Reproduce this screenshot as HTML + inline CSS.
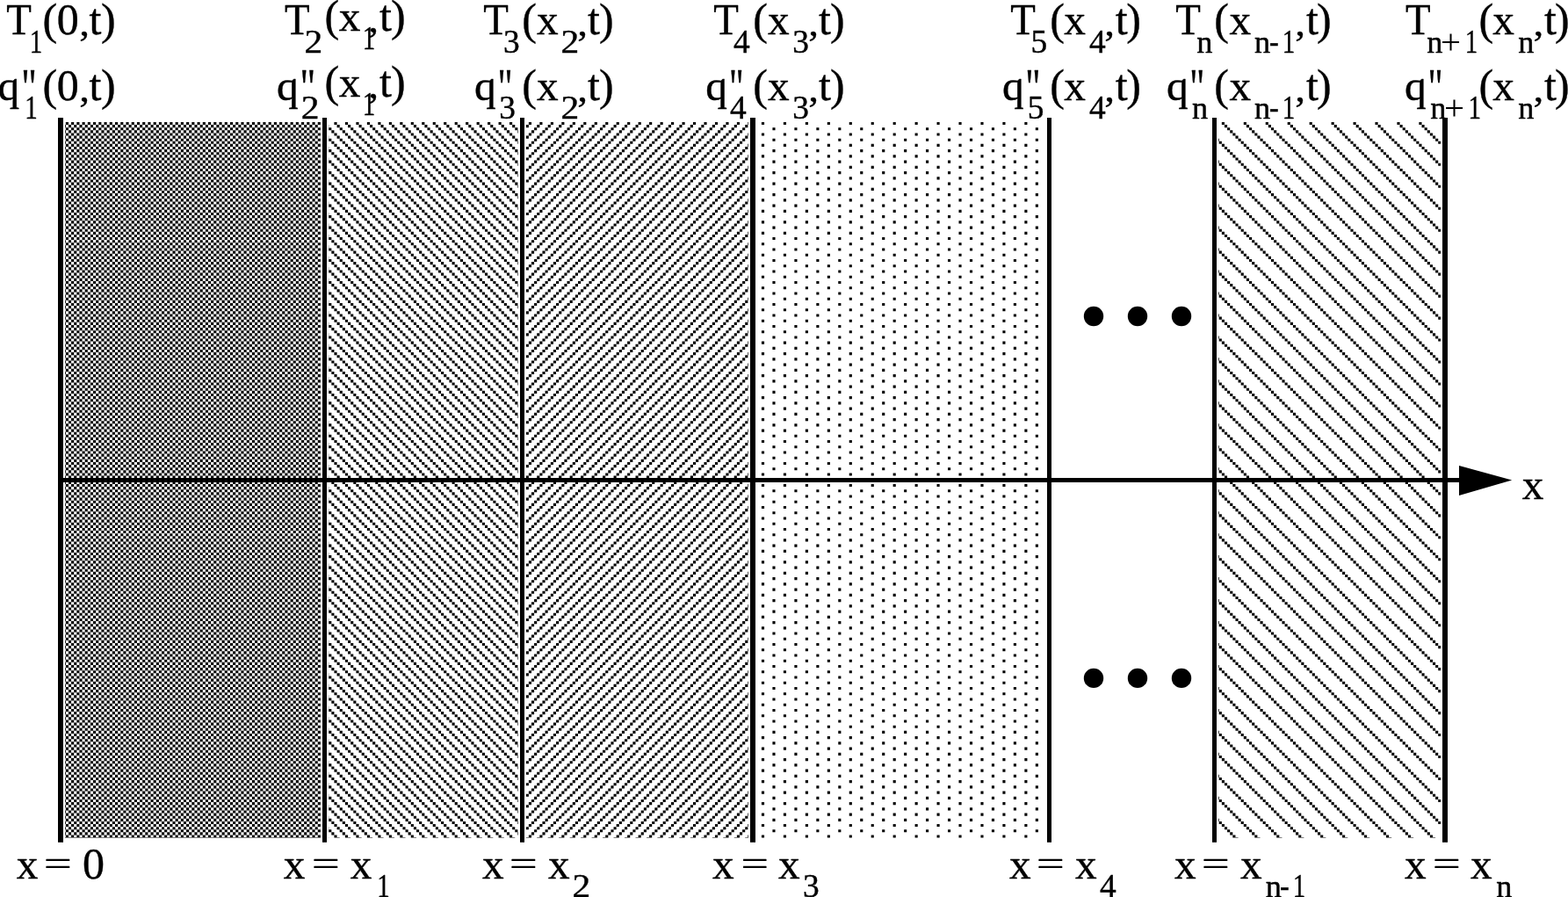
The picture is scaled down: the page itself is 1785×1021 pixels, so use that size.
<!DOCTYPE html>
<html lang="en">
<head>
<meta charset="utf-8">
<title>Multilayer slab: T(x,t) and q''(x,t) at layer interfaces</title>
<style>
html,body{margin:0;padding:0;background:#fff;}
body{width:1785px;height:1021px;overflow:hidden;}
svg{display:block;}
text{font-family:"Liberation Serif","Times New Roman",Times,serif;fill:#000;stroke:#000;stroke-width:0.4px;stroke-linejoin:round;}
</style>
</head>
<body>
<svg width="1785" height="1021" viewBox="0 0 1785 1021">
<defs>
<clipPath id="cpc"><rect x="74" y="139" width="291" height="815"/></clipPath>
<clipPath id="cpb"><rect x="374" y="139" width="216" height="815"/></clipPath>
<clipPath id="cpf"><rect x="599" y="139" width="253" height="815"/></clipPath>
<clipPath id="cpd"><rect x="862" y="139" width="328" height="815"/></clipPath>
<clipPath id="cpw"><rect x="1387" y="139" width="253" height="815"/></clipPath>
</defs>
<rect width="1785" height="1021" fill="#fff"/>
<g fill="none" stroke="#000" stroke-width="3.1215">
<path clip-path="url(#cpc)" stroke-dasharray="3.1185 3.1185" d="M68.61 140.46H366M65.49 143.58H366M68.61 146.70H366M65.49 149.83H366M68.61 152.95H366M65.49 156.07H366M68.61 159.19H366M65.49 162.31H366M68.61 165.43H366M65.49 168.55H366M68.61 171.68H366M65.49 174.80H366M68.61 177.92H366M65.49 181.04H366M68.61 184.16H366M65.49 187.28H366M68.61 190.40H366M65.49 193.53H366M68.61 196.65H366M65.49 199.77H366M68.61 202.89H366M65.49 206.01H366M68.61 209.13H366M65.49 212.26H366M68.61 215.38H366M65.49 218.50H366M68.61 221.62H366M65.49 224.74H366M68.61 227.86H366M65.49 230.98H366M68.61 234.11H366M65.49 237.23H366M68.61 240.35H366M65.49 243.47H366M68.61 246.59H366M65.49 249.71H366M68.61 252.83H366M65.49 255.96H366M68.61 259.08H366M65.49 262.20H366M68.61 265.32H366M65.49 268.44H366M68.61 271.56H366M65.49 274.69H366M68.61 277.81H366M65.49 280.93H366M68.61 284.05H366M65.49 287.17H366M68.61 290.29H366M65.49 293.41H366M68.61 296.54H366M65.49 299.66H366M68.61 302.78H366M65.49 305.90H366M68.61 309.02H366M65.49 312.14H366M68.61 315.26H366M65.49 318.39H366M68.61 321.51H366M65.49 324.63H366M68.61 327.75H366M65.49 330.87H366M68.61 333.99H366M65.49 337.12H366M68.61 340.24H366M65.49 343.36H366M68.61 346.48H366M65.49 349.60H366M68.61 352.72H366M65.49 355.84H366M68.61 358.97H366M65.49 362.09H366M68.61 365.21H366M65.49 368.33H366M68.61 371.45H366M65.49 374.57H366M68.61 377.69H366M65.49 380.82H366M68.61 383.94H366M65.49 387.06H366M68.61 390.18H366M65.49 393.30H366M68.61 396.42H366M65.49 399.55H366M68.61 402.67H366M65.49 405.79H366M68.61 408.91H366M65.49 412.03H366M68.61 415.15H366M65.49 418.27H366M68.61 421.40H366M65.49 424.52H366M68.61 427.64H366M65.49 430.76H366M68.61 433.88H366M65.49 437.00H366M68.61 440.12H366M65.49 443.25H366M68.61 446.37H366M65.49 449.49H366M68.61 452.61H366M65.49 455.73H366M68.61 458.85H366M65.49 461.98H366M68.61 465.10H366M65.49 468.22H366M68.61 471.34H366M65.49 474.46H366M68.61 477.58H366M65.49 480.70H366M68.61 483.83H366M65.49 486.95H366M68.61 490.07H366M65.49 493.19H366M68.61 496.31H366M65.49 499.43H366M68.61 502.55H366M65.49 505.68H366M68.61 508.80H366M65.49 511.92H366M68.61 515.04H366M65.49 518.16H366M68.61 521.28H366M65.49 524.41H366M68.61 527.53H366M65.49 530.65H366M68.61 533.77H366M65.49 536.89H366M68.61 540.01H366M65.49 543.13H366M68.61 546.26H366M65.49 549.38H366M68.61 552.50H366M65.49 555.62H366M68.61 558.74H366M65.49 561.86H366M68.61 564.98H366M65.49 568.11H366M68.61 571.23H366M65.49 574.35H366M68.61 577.47H366M65.49 580.59H366M68.61 583.71H366M65.49 586.84H366M68.61 589.96H366M65.49 593.08H366M68.61 596.20H366M65.49 599.32H366M68.61 602.44H366M65.49 605.56H366M68.61 608.69H366M65.49 611.81H366M68.61 614.93H366M65.49 618.05H366M68.61 621.17H366M65.49 624.29H366M68.61 627.41H366M65.49 630.54H366M68.61 633.66H366M65.49 636.78H366M68.61 639.90H366M65.49 643.02H366M68.61 646.14H366M65.49 649.27H366M68.61 652.39H366M65.49 655.51H366M68.61 658.63H366M65.49 661.75H366M68.61 664.87H366M65.49 667.99H366M68.61 671.12H366M65.49 674.24H366M68.61 677.36H366M65.49 680.48H366M68.61 683.60H366M65.49 686.72H366M68.61 689.84H366M65.49 692.97H366M68.61 696.09H366M65.49 699.21H366M68.61 702.33H366M65.49 705.45H366M68.61 708.57H366M65.49 711.70H366M68.61 714.82H366M65.49 717.94H366M68.61 721.06H366M65.49 724.18H366M68.61 727.30H366M65.49 730.42H366M68.61 733.55H366M65.49 736.67H366M68.61 739.79H366M65.49 742.91H366M68.61 746.03H366M65.49 749.15H366M68.61 752.27H366M65.49 755.40H366M68.61 758.52H366M65.49 761.64H366M68.61 764.76H366M65.49 767.88H366M68.61 771.00H366M65.49 774.13H366M68.61 777.25H366M65.49 780.37H366M68.61 783.49H366M65.49 786.61H366M68.61 789.73H366M65.49 792.85H366M68.61 795.98H366M65.49 799.10H366M68.61 802.22H366M65.49 805.34H366M68.61 808.46H366M65.49 811.58H366M68.61 814.70H366M65.49 817.83H366M68.61 820.95H366M65.49 824.07H366M68.61 827.19H366M65.49 830.31H366M68.61 833.43H366M65.49 836.56H366M68.61 839.68H366M65.49 842.80H366M68.61 845.92H366M65.49 849.04H366M68.61 852.16H366M65.49 855.28H366M68.61 858.41H366M65.49 861.53H366M68.61 864.65H366M65.49 867.77H366M68.61 870.89H366M65.49 874.01H366M68.61 877.13H366M65.49 880.26H366M68.61 883.38H366M65.49 886.50H366M68.61 889.62H366M65.49 892.74H366M68.61 895.86H366M65.49 898.99H366M68.61 902.11H366M65.49 905.23H366M68.61 908.35H366M65.49 911.47H366M68.61 914.59H366M65.49 917.71H366M68.61 920.84H366M65.49 923.96H366M68.61 927.08H366M65.49 930.20H366M68.61 933.32H366M65.49 936.44H366M68.61 939.56H366M65.49 942.69H366M68.61 945.81H366M65.49 948.93H366M68.61 952.05H366M65.49 955.17H366"/>
<path clip-path="url(#cpb)" stroke-dasharray="3.1185 9.3555" d="M367.98 140.46H591M358.63 143.58H591M361.75 146.70H591M364.86 149.83H591M367.98 152.95H591M358.63 156.07H591M361.75 159.19H591M364.86 162.31H591M367.98 165.43H591M358.63 168.55H591M361.75 171.68H591M364.86 174.80H591M367.98 177.92H591M358.63 181.04H591M361.75 184.16H591M364.86 187.28H591M367.98 190.40H591M358.63 193.53H591M361.75 196.65H591M364.86 199.77H591M367.98 202.89H591M358.63 206.01H591M361.75 209.13H591M364.86 212.26H591M367.98 215.38H591M358.63 218.50H591M361.75 221.62H591M364.86 224.74H591M367.98 227.86H591M358.63 230.98H591M361.75 234.11H591M364.86 237.23H591M367.98 240.35H591M358.63 243.47H591M361.75 246.59H591M364.86 249.71H591M367.98 252.83H591M358.63 255.96H591M361.75 259.08H591M364.86 262.20H591M367.98 265.32H591M358.63 268.44H591M361.75 271.56H591M364.86 274.69H591M367.98 277.81H591M358.63 280.93H591M361.75 284.05H591M364.86 287.17H591M367.98 290.29H591M358.63 293.41H591M361.75 296.54H591M364.86 299.66H591M367.98 302.78H591M358.63 305.90H591M361.75 309.02H591M364.86 312.14H591M367.98 315.26H591M358.63 318.39H591M361.75 321.51H591M364.86 324.63H591M367.98 327.75H591M358.63 330.87H591M361.75 333.99H591M364.86 337.12H591M367.98 340.24H591M358.63 343.36H591M361.75 346.48H591M364.86 349.60H591M367.98 352.72H591M358.63 355.84H591M361.75 358.97H591M364.86 362.09H591M367.98 365.21H591M358.63 368.33H591M361.75 371.45H591M364.86 374.57H591M367.98 377.69H591M358.63 380.82H591M361.75 383.94H591M364.86 387.06H591M367.98 390.18H591M358.63 393.30H591M361.75 396.42H591M364.86 399.55H591M367.98 402.67H591M358.63 405.79H591M361.75 408.91H591M364.86 412.03H591M367.98 415.15H591M358.63 418.27H591M361.75 421.40H591M364.86 424.52H591M367.98 427.64H591M358.63 430.76H591M361.75 433.88H591M364.86 437.00H591M367.98 440.12H591M358.63 443.25H591M361.75 446.37H591M364.86 449.49H591M367.98 452.61H591M358.63 455.73H591M361.75 458.85H591M364.86 461.98H591M367.98 465.10H591M358.63 468.22H591M361.75 471.34H591M364.86 474.46H591M367.98 477.58H591M358.63 480.70H591M361.75 483.83H591M364.86 486.95H591M367.98 490.07H591M358.63 493.19H591M361.75 496.31H591M364.86 499.43H591M367.98 502.55H591M358.63 505.68H591M361.75 508.80H591M364.86 511.92H591M367.98 515.04H591M358.63 518.16H591M361.75 521.28H591M364.86 524.41H591M367.98 527.53H591M358.63 530.65H591M361.75 533.77H591M364.86 536.89H591M367.98 540.01H591M358.63 543.13H591M361.75 546.26H591M364.86 549.38H591M367.98 552.50H591M358.63 555.62H591M361.75 558.74H591M364.86 561.86H591M367.98 564.98H591M358.63 568.11H591M361.75 571.23H591M364.86 574.35H591M367.98 577.47H591M358.63 580.59H591M361.75 583.71H591M364.86 586.84H591M367.98 589.96H591M358.63 593.08H591M361.75 596.20H591M364.86 599.32H591M367.98 602.44H591M358.63 605.56H591M361.75 608.69H591M364.86 611.81H591M367.98 614.93H591M358.63 618.05H591M361.75 621.17H591M364.86 624.29H591M367.98 627.41H591M358.63 630.54H591M361.75 633.66H591M364.86 636.78H591M367.98 639.90H591M358.63 643.02H591M361.75 646.14H591M364.86 649.27H591M367.98 652.39H591M358.63 655.51H591M361.75 658.63H591M364.86 661.75H591M367.98 664.87H591M358.63 667.99H591M361.75 671.12H591M364.86 674.24H591M367.98 677.36H591M358.63 680.48H591M361.75 683.60H591M364.86 686.72H591M367.98 689.84H591M358.63 692.97H591M361.75 696.09H591M364.86 699.21H591M367.98 702.33H591M358.63 705.45H591M361.75 708.57H591M364.86 711.70H591M367.98 714.82H591M358.63 717.94H591M361.75 721.06H591M364.86 724.18H591M367.98 727.30H591M358.63 730.42H591M361.75 733.55H591M364.86 736.67H591M367.98 739.79H591M358.63 742.91H591M361.75 746.03H591M364.86 749.15H591M367.98 752.27H591M358.63 755.40H591M361.75 758.52H591M364.86 761.64H591M367.98 764.76H591M358.63 767.88H591M361.75 771.00H591M364.86 774.13H591M367.98 777.25H591M358.63 780.37H591M361.75 783.49H591M364.86 786.61H591M367.98 789.73H591M358.63 792.85H591M361.75 795.98H591M364.86 799.10H591M367.98 802.22H591M358.63 805.34H591M361.75 808.46H591M364.86 811.58H591M367.98 814.70H591M358.63 817.83H591M361.75 820.95H591M364.86 824.07H591M367.98 827.19H591M358.63 830.31H591M361.75 833.43H591M364.86 836.56H591M367.98 839.68H591M358.63 842.80H591M361.75 845.92H591M364.86 849.04H591M367.98 852.16H591M358.63 855.28H591M361.75 858.41H591M364.86 861.53H591M367.98 864.65H591M358.63 867.77H591M361.75 870.89H591M364.86 874.01H591M367.98 877.13H591M358.63 880.26H591M361.75 883.38H591M364.86 886.50H591M367.98 889.62H591M358.63 892.74H591M361.75 895.86H591M364.86 898.99H591M367.98 902.11H591M358.63 905.23H591M361.75 908.35H591M364.86 911.47H591M367.98 914.59H591M358.63 917.71H591M361.75 920.84H591M364.86 923.96H591M367.98 927.08H591M358.63 930.20H591M361.75 933.32H591M364.86 936.44H591M367.98 939.56H591M358.63 942.69H591M361.75 945.81H591M364.86 948.93H591M367.98 952.05H591M358.63 955.17H591"/>
<path clip-path="url(#cpf)" stroke-dasharray="3.1185 9.3555" d="M589.40 140.46H853M586.28 143.58H853M595.63 146.70H853M592.51 149.83H853M589.40 152.95H853M586.28 156.07H853M595.63 159.19H853M592.51 162.31H853M589.40 165.43H853M586.28 168.55H853M595.63 171.68H853M592.51 174.80H853M589.40 177.92H853M586.28 181.04H853M595.63 184.16H853M592.51 187.28H853M589.40 190.40H853M586.28 193.53H853M595.63 196.65H853M592.51 199.77H853M589.40 202.89H853M586.28 206.01H853M595.63 209.13H853M592.51 212.26H853M589.40 215.38H853M586.28 218.50H853M595.63 221.62H853M592.51 224.74H853M589.40 227.86H853M586.28 230.98H853M595.63 234.11H853M592.51 237.23H853M589.40 240.35H853M586.28 243.47H853M595.63 246.59H853M592.51 249.71H853M589.40 252.83H853M586.28 255.96H853M595.63 259.08H853M592.51 262.20H853M589.40 265.32H853M586.28 268.44H853M595.63 271.56H853M592.51 274.69H853M589.40 277.81H853M586.28 280.93H853M595.63 284.05H853M592.51 287.17H853M589.40 290.29H853M586.28 293.41H853M595.63 296.54H853M592.51 299.66H853M589.40 302.78H853M586.28 305.90H853M595.63 309.02H853M592.51 312.14H853M589.40 315.26H853M586.28 318.39H853M595.63 321.51H853M592.51 324.63H853M589.40 327.75H853M586.28 330.87H853M595.63 333.99H853M592.51 337.12H853M589.40 340.24H853M586.28 343.36H853M595.63 346.48H853M592.51 349.60H853M589.40 352.72H853M586.28 355.84H853M595.63 358.97H853M592.51 362.09H853M589.40 365.21H853M586.28 368.33H853M595.63 371.45H853M592.51 374.57H853M589.40 377.69H853M586.28 380.82H853M595.63 383.94H853M592.51 387.06H853M589.40 390.18H853M586.28 393.30H853M595.63 396.42H853M592.51 399.55H853M589.40 402.67H853M586.28 405.79H853M595.63 408.91H853M592.51 412.03H853M589.40 415.15H853M586.28 418.27H853M595.63 421.40H853M592.51 424.52H853M589.40 427.64H853M586.28 430.76H853M595.63 433.88H853M592.51 437.00H853M589.40 440.12H853M586.28 443.25H853M595.63 446.37H853M592.51 449.49H853M589.40 452.61H853M586.28 455.73H853M595.63 458.85H853M592.51 461.98H853M589.40 465.10H853M586.28 468.22H853M595.63 471.34H853M592.51 474.46H853M589.40 477.58H853M586.28 480.70H853M595.63 483.83H853M592.51 486.95H853M589.40 490.07H853M586.28 493.19H853M595.63 496.31H853M592.51 499.43H853M589.40 502.55H853M586.28 505.68H853M595.63 508.80H853M592.51 511.92H853M589.40 515.04H853M586.28 518.16H853M595.63 521.28H853M592.51 524.41H853M589.40 527.53H853M586.28 530.65H853M595.63 533.77H853M592.51 536.89H853M589.40 540.01H853M586.28 543.13H853M595.63 546.26H853M592.51 549.38H853M589.40 552.50H853M586.28 555.62H853M595.63 558.74H853M592.51 561.86H853M589.40 564.98H853M586.28 568.11H853M595.63 571.23H853M592.51 574.35H853M589.40 577.47H853M586.28 580.59H853M595.63 583.71H853M592.51 586.84H853M589.40 589.96H853M586.28 593.08H853M595.63 596.20H853M592.51 599.32H853M589.40 602.44H853M586.28 605.56H853M595.63 608.69H853M592.51 611.81H853M589.40 614.93H853M586.28 618.05H853M595.63 621.17H853M592.51 624.29H853M589.40 627.41H853M586.28 630.54H853M595.63 633.66H853M592.51 636.78H853M589.40 639.90H853M586.28 643.02H853M595.63 646.14H853M592.51 649.27H853M589.40 652.39H853M586.28 655.51H853M595.63 658.63H853M592.51 661.75H853M589.40 664.87H853M586.28 667.99H853M595.63 671.12H853M592.51 674.24H853M589.40 677.36H853M586.28 680.48H853M595.63 683.60H853M592.51 686.72H853M589.40 689.84H853M586.28 692.97H853M595.63 696.09H853M592.51 699.21H853M589.40 702.33H853M586.28 705.45H853M595.63 708.57H853M592.51 711.70H853M589.40 714.82H853M586.28 717.94H853M595.63 721.06H853M592.51 724.18H853M589.40 727.30H853M586.28 730.42H853M595.63 733.55H853M592.51 736.67H853M589.40 739.79H853M586.28 742.91H853M595.63 746.03H853M592.51 749.15H853M589.40 752.27H853M586.28 755.40H853M595.63 758.52H853M592.51 761.64H853M589.40 764.76H853M586.28 767.88H853M595.63 771.00H853M592.51 774.13H853M589.40 777.25H853M586.28 780.37H853M595.63 783.49H853M592.51 786.61H853M589.40 789.73H853M586.28 792.85H853M595.63 795.98H853M592.51 799.10H853M589.40 802.22H853M586.28 805.34H853M595.63 808.46H853M592.51 811.58H853M589.40 814.70H853M586.28 817.83H853M595.63 820.95H853M592.51 824.07H853M589.40 827.19H853M586.28 830.31H853M595.63 833.43H853M592.51 836.56H853M589.40 839.68H853M586.28 842.80H853M595.63 845.92H853M592.51 849.04H853M589.40 852.16H853M586.28 855.28H853M595.63 858.41H853M592.51 861.53H853M589.40 864.65H853M586.28 867.77H853M595.63 870.89H853M592.51 874.01H853M589.40 877.13H853M586.28 880.26H853M595.63 883.38H853M592.51 886.50H853M589.40 889.62H853M586.28 892.74H853M595.63 895.86H853M592.51 898.99H853M589.40 902.11H853M586.28 905.23H853M595.63 908.35H853M592.51 911.47H853M589.40 914.59H853M586.28 917.71H853M595.63 920.84H853M592.51 923.96H853M589.40 927.08H853M586.28 930.20H853M595.63 933.32H853M592.51 936.44H853M589.40 939.56H853M586.28 942.69H853M595.63 945.81H853M592.51 948.93H853M589.40 952.05H853M586.28 955.17H853"/>
<path clip-path="url(#cpd)" stroke-dasharray="3.1185 21.8295" d="M842.00 140.46H1191M854.47 146.70H1191M842.00 152.95H1191M854.47 159.19H1191M842.00 165.43H1191M854.47 171.68H1191M842.00 177.92H1191M854.47 184.16H1191M842.00 190.40H1191M854.47 196.65H1191M842.00 202.89H1191M854.47 209.13H1191M842.00 215.38H1191M854.47 221.62H1191M842.00 227.86H1191M854.47 234.11H1191M842.00 240.35H1191M854.47 246.59H1191M842.00 252.83H1191M854.47 259.08H1191M842.00 265.32H1191M854.47 271.56H1191M842.00 277.81H1191M854.47 284.05H1191M842.00 290.29H1191M854.47 296.54H1191M842.00 302.78H1191M854.47 309.02H1191M842.00 315.26H1191M854.47 321.51H1191M842.00 327.75H1191M854.47 333.99H1191M842.00 340.24H1191M854.47 346.48H1191M842.00 352.72H1191M854.47 358.97H1191M842.00 365.21H1191M854.47 371.45H1191M842.00 377.69H1191M854.47 383.94H1191M842.00 390.18H1191M854.47 396.42H1191M842.00 402.67H1191M854.47 408.91H1191M842.00 415.15H1191M854.47 421.40H1191M842.00 427.64H1191M854.47 433.88H1191M842.00 440.12H1191M854.47 446.37H1191M842.00 452.61H1191M854.47 458.85H1191M842.00 465.10H1191M854.47 471.34H1191M842.00 477.58H1191M854.47 483.83H1191M842.00 490.07H1191M854.47 496.31H1191M842.00 502.55H1191M854.47 508.80H1191M842.00 515.04H1191M854.47 521.28H1191M842.00 527.53H1191M854.47 533.77H1191M842.00 540.01H1191M854.47 546.26H1191M842.00 552.50H1191M854.47 558.74H1191M842.00 564.98H1191M854.47 571.23H1191M842.00 577.47H1191M854.47 583.71H1191M842.00 589.96H1191M854.47 596.20H1191M842.00 602.44H1191M854.47 608.69H1191M842.00 614.93H1191M854.47 621.17H1191M842.00 627.41H1191M854.47 633.66H1191M842.00 639.90H1191M854.47 646.14H1191M842.00 652.39H1191M854.47 658.63H1191M842.00 664.87H1191M854.47 671.12H1191M842.00 677.36H1191M854.47 683.60H1191M842.00 689.84H1191M854.47 696.09H1191M842.00 702.33H1191M854.47 708.57H1191M842.00 714.82H1191M854.47 721.06H1191M842.00 727.30H1191M854.47 733.55H1191M842.00 739.79H1191M854.47 746.03H1191M842.00 752.27H1191M854.47 758.52H1191M842.00 764.76H1191M854.47 771.00H1191M842.00 777.25H1191M854.47 783.49H1191M842.00 789.73H1191M854.47 795.98H1191M842.00 802.22H1191M854.47 808.46H1191M842.00 814.70H1191M854.47 820.95H1191M842.00 827.19H1191M854.47 833.43H1191M842.00 839.68H1191M854.47 845.92H1191M842.00 852.16H1191M854.47 858.41H1191M842.00 864.65H1191M854.47 870.89H1191M842.00 877.13H1191M854.47 883.38H1191M842.00 889.62H1191M854.47 895.86H1191M842.00 902.11H1191M854.47 908.35H1191M842.00 914.59H1191M854.47 920.84H1191M842.00 927.08H1191M854.47 933.32H1191M842.00 939.56H1191M854.47 945.81H1191M842.00 952.05H1191"/>
<path clip-path="url(#cpw)" stroke-dasharray="3.1185 21.8295" d="M1365.90 140.46H1641M1369.02 143.58H1641M1372.14 146.70H1641M1375.26 149.83H1641M1378.38 152.95H1641M1381.50 156.07H1641M1359.67 159.19H1641M1362.78 162.31H1641M1365.90 165.43H1641M1369.02 168.55H1641M1372.14 171.68H1641M1375.26 174.80H1641M1378.38 177.92H1641M1381.50 181.04H1641M1359.67 184.16H1641M1362.78 187.28H1641M1365.90 190.40H1641M1369.02 193.53H1641M1372.14 196.65H1641M1375.26 199.77H1641M1378.38 202.89H1641M1381.50 206.01H1641M1359.67 209.13H1641M1362.78 212.26H1641M1365.90 215.38H1641M1369.02 218.50H1641M1372.14 221.62H1641M1375.26 224.74H1641M1378.38 227.86H1641M1381.50 230.98H1641M1359.67 234.11H1641M1362.78 237.23H1641M1365.90 240.35H1641M1369.02 243.47H1641M1372.14 246.59H1641M1375.26 249.71H1641M1378.38 252.83H1641M1381.50 255.96H1641M1359.67 259.08H1641M1362.78 262.20H1641M1365.90 265.32H1641M1369.02 268.44H1641M1372.14 271.56H1641M1375.26 274.69H1641M1378.38 277.81H1641M1381.50 280.93H1641M1359.67 284.05H1641M1362.78 287.17H1641M1365.90 290.29H1641M1369.02 293.41H1641M1372.14 296.54H1641M1375.26 299.66H1641M1378.38 302.78H1641M1381.50 305.90H1641M1359.67 309.02H1641M1362.78 312.14H1641M1365.90 315.26H1641M1369.02 318.39H1641M1372.14 321.51H1641M1375.26 324.63H1641M1378.38 327.75H1641M1381.50 330.87H1641M1359.67 333.99H1641M1362.78 337.12H1641M1365.90 340.24H1641M1369.02 343.36H1641M1372.14 346.48H1641M1375.26 349.60H1641M1378.38 352.72H1641M1381.50 355.84H1641M1359.67 358.97H1641M1362.78 362.09H1641M1365.90 365.21H1641M1369.02 368.33H1641M1372.14 371.45H1641M1375.26 374.57H1641M1378.38 377.69H1641M1381.50 380.82H1641M1359.67 383.94H1641M1362.78 387.06H1641M1365.90 390.18H1641M1369.02 393.30H1641M1372.14 396.42H1641M1375.26 399.55H1641M1378.38 402.67H1641M1381.50 405.79H1641M1359.67 408.91H1641M1362.78 412.03H1641M1365.90 415.15H1641M1369.02 418.27H1641M1372.14 421.40H1641M1375.26 424.52H1641M1378.38 427.64H1641M1381.50 430.76H1641M1359.67 433.88H1641M1362.78 437.00H1641M1365.90 440.12H1641M1369.02 443.25H1641M1372.14 446.37H1641M1375.26 449.49H1641M1378.38 452.61H1641M1381.50 455.73H1641M1359.67 458.85H1641M1362.78 461.98H1641M1365.90 465.10H1641M1369.02 468.22H1641M1372.14 471.34H1641M1375.26 474.46H1641M1378.38 477.58H1641M1381.50 480.70H1641M1359.67 483.83H1641M1362.78 486.95H1641M1365.90 490.07H1641M1369.02 493.19H1641M1372.14 496.31H1641M1375.26 499.43H1641M1378.38 502.55H1641M1381.50 505.68H1641M1359.67 508.80H1641M1362.78 511.92H1641M1365.90 515.04H1641M1369.02 518.16H1641M1372.14 521.28H1641M1375.26 524.41H1641M1378.38 527.53H1641M1381.50 530.65H1641M1359.67 533.77H1641M1362.78 536.89H1641M1365.90 540.01H1641M1369.02 543.13H1641M1372.14 546.26H1641M1375.26 549.38H1641M1378.38 552.50H1641M1381.50 555.62H1641M1359.67 558.74H1641M1362.78 561.86H1641M1365.90 564.98H1641M1369.02 568.11H1641M1372.14 571.23H1641M1375.26 574.35H1641M1378.38 577.47H1641M1381.50 580.59H1641M1359.67 583.71H1641M1362.78 586.84H1641M1365.90 589.96H1641M1369.02 593.08H1641M1372.14 596.20H1641M1375.26 599.32H1641M1378.38 602.44H1641M1381.50 605.56H1641M1359.67 608.69H1641M1362.78 611.81H1641M1365.90 614.93H1641M1369.02 618.05H1641M1372.14 621.17H1641M1375.26 624.29H1641M1378.38 627.41H1641M1381.50 630.54H1641M1359.67 633.66H1641M1362.78 636.78H1641M1365.90 639.90H1641M1369.02 643.02H1641M1372.14 646.14H1641M1375.26 649.27H1641M1378.38 652.39H1641M1381.50 655.51H1641M1359.67 658.63H1641M1362.78 661.75H1641M1365.90 664.87H1641M1369.02 667.99H1641M1372.14 671.12H1641M1375.26 674.24H1641M1378.38 677.36H1641M1381.50 680.48H1641M1359.67 683.60H1641M1362.78 686.72H1641M1365.90 689.84H1641M1369.02 692.97H1641M1372.14 696.09H1641M1375.26 699.21H1641M1378.38 702.33H1641M1381.50 705.45H1641M1359.67 708.57H1641M1362.78 711.70H1641M1365.90 714.82H1641M1369.02 717.94H1641M1372.14 721.06H1641M1375.26 724.18H1641M1378.38 727.30H1641M1381.50 730.42H1641M1359.67 733.55H1641M1362.78 736.67H1641M1365.90 739.79H1641M1369.02 742.91H1641M1372.14 746.03H1641M1375.26 749.15H1641M1378.38 752.27H1641M1381.50 755.40H1641M1359.67 758.52H1641M1362.78 761.64H1641M1365.90 764.76H1641M1369.02 767.88H1641M1372.14 771.00H1641M1375.26 774.13H1641M1378.38 777.25H1641M1381.50 780.37H1641M1359.67 783.49H1641M1362.78 786.61H1641M1365.90 789.73H1641M1369.02 792.85H1641M1372.14 795.98H1641M1375.26 799.10H1641M1378.38 802.22H1641M1381.50 805.34H1641M1359.67 808.46H1641M1362.78 811.58H1641M1365.90 814.70H1641M1369.02 817.83H1641M1372.14 820.95H1641M1375.26 824.07H1641M1378.38 827.19H1641M1381.50 830.31H1641M1359.67 833.43H1641M1362.78 836.56H1641M1365.90 839.68H1641M1369.02 842.80H1641M1372.14 845.92H1641M1375.26 849.04H1641M1378.38 852.16H1641M1381.50 855.28H1641M1359.67 858.41H1641M1362.78 861.53H1641M1365.90 864.65H1641M1369.02 867.77H1641M1372.14 870.89H1641M1375.26 874.01H1641M1378.38 877.13H1641M1381.50 880.26H1641M1359.67 883.38H1641M1362.78 886.50H1641M1365.90 889.62H1641M1369.02 892.74H1641M1372.14 895.86H1641M1375.26 898.99H1641M1378.38 902.11H1641M1381.50 905.23H1641M1359.67 908.35H1641M1362.78 911.47H1641M1365.90 914.59H1641M1369.02 917.71H1641M1372.14 920.84H1641M1375.26 923.96H1641M1378.38 927.08H1641M1381.50 930.20H1641M1359.67 933.32H1641M1362.78 936.44H1641M1365.90 939.56H1641M1369.02 942.69H1641M1372.14 945.81H1641M1375.26 948.93H1641M1378.38 952.05H1641M1381.50 955.17H1641"/>
</g>
<g fill="#000">
<rect x="66" y="134.0" width="6" height="824.80"/>
<rect x="367" y="134.0" width="5" height="824.80"/>
<rect x="592" y="134.0" width="5" height="824.80"/>
<rect x="854" y="134.0" width="6" height="824.80"/>
<rect x="1192" y="134.0" width="5" height="824.80"/>
<rect x="1380" y="134.0" width="5" height="824.80"/>
<rect x="1642" y="134.0" width="6" height="824.80"/>
<rect x="69" y="544" width="1593" height="5"/>
<path d="M1661 529.9L1721.2 546.6L1661 564.1Z"/>
<circle cx="1245" cy="360" r="11.2"/><circle cx="1295" cy="360" r="11.2"/><circle cx="1345" cy="360" r="11.2"/><circle cx="1245" cy="771.9" r="11.2"/><circle cx="1295" cy="771.9" r="11.2"/><circle cx="1345" cy="771.9" r="11.2"/>
</g>
<g>
<text><tspan x="7.30" y="38.90" font-size="49.94" textLength="28.62" lengthAdjust="spacingAndGlyphs">T</tspan><tspan x="33.70" y="59.90" font-size="37.72" textLength="14.49" lengthAdjust="spacingAndGlyphs">1</tspan><tspan x="48.38" y="39.00" font-size="50">(</tspan><tspan x="64.85" y="39.00" font-size="50">0</tspan><tspan x="90.36" y="40.25" font-size="43.22" textLength="11.75" lengthAdjust="spacingAndGlyphs">,</tspan><tspan x="101.61" y="39.00" font-size="50">t</tspan><tspan x="114.97" y="39.00" font-size="50">)</tspan></text>
<text><tspan x="-2.63" y="114.35" font-size="48.14" textLength="24.67" lengthAdjust="spacingAndGlyphs">q</tspan><tspan x="24.24" y="118.89" font-size="58.33" textLength="17.52" lengthAdjust="spacingAndGlyphs">&quot;</tspan><tspan x="28.35" y="134.90" font-size="37.72" textLength="14.49" lengthAdjust="spacingAndGlyphs">1</tspan><tspan x="48.38" y="114.00" font-size="50">(</tspan><tspan x="64.85" y="114.00" font-size="50">0</tspan><tspan x="90.36" y="115.25" font-size="43.22" textLength="11.75" lengthAdjust="spacingAndGlyphs">,</tspan><tspan x="101.61" y="114.00" font-size="50">t</tspan><tspan x="114.97" y="114.00" font-size="50">)</tspan></text>
<text><tspan x="324.00" y="38.90" font-size="49.94" textLength="28.62" lengthAdjust="spacingAndGlyphs">T</tspan><tspan x="346.53" y="59.90" font-size="37.61" textLength="20.70" lengthAdjust="spacingAndGlyphs">2</tspan><tspan x="369.38" y="35.00" font-size="50">(</tspan><tspan x="385.82" y="34.90" font-size="47.50" textLength="24.63" lengthAdjust="spacingAndGlyphs">x</tspan><tspan x="412.85" y="55.90" font-size="37.72" textLength="14.49" lengthAdjust="spacingAndGlyphs">1</tspan><tspan x="419.31" y="36.25" font-size="43.22" textLength="11.75" lengthAdjust="spacingAndGlyphs">,</tspan><tspan x="431.96" y="35.00" font-size="50">t</tspan><tspan x="444.97" y="35.00" font-size="50">)</tspan></text>
<text><tspan x="314.92" y="114.35" font-size="48.14" textLength="24.67" lengthAdjust="spacingAndGlyphs">q</tspan><tspan x="341.52" y="118.89" font-size="58.33" textLength="17.67" lengthAdjust="spacingAndGlyphs">&quot;</tspan><tspan x="342.88" y="134.90" font-size="37.61" textLength="20.70" lengthAdjust="spacingAndGlyphs">2</tspan><tspan x="369.38" y="110.00" font-size="50">(</tspan><tspan x="385.82" y="109.90" font-size="47.50" textLength="24.63" lengthAdjust="spacingAndGlyphs">x</tspan><tspan x="412.85" y="130.90" font-size="37.72" textLength="14.49" lengthAdjust="spacingAndGlyphs">1</tspan><tspan x="419.31" y="111.25" font-size="43.22" textLength="11.75" lengthAdjust="spacingAndGlyphs">,</tspan><tspan x="431.96" y="110.00" font-size="50">t</tspan><tspan x="444.97" y="110.00" font-size="50">)</tspan></text>
<text><tspan x="550.25" y="38.90" font-size="49.94" textLength="28.62" lengthAdjust="spacingAndGlyphs">T</tspan><tspan x="572.94" y="60.00" font-size="37.4">3</tspan><tspan x="594.18" y="39.00" font-size="50">(</tspan><tspan x="611.07" y="38.90" font-size="47.50" textLength="24.63" lengthAdjust="spacingAndGlyphs">x</tspan><tspan x="638.53" y="59.90" font-size="37.61" textLength="20.70" lengthAdjust="spacingAndGlyphs">2</tspan><tspan x="657.26" y="40.25" font-size="43.22" textLength="11.75" lengthAdjust="spacingAndGlyphs">,</tspan><tspan x="668.96" y="39.00" font-size="50">t</tspan><tspan x="682.12" y="39.00" font-size="50">)</tspan></text>
<text><tspan x="540.07" y="114.35" font-size="48.14" textLength="24.67" lengthAdjust="spacingAndGlyphs">q</tspan><tspan x="566.60" y="118.89" font-size="58.33" textLength="17.09" lengthAdjust="spacingAndGlyphs">&quot;</tspan><tspan x="568.14" y="135.00" font-size="37.4">3</tspan><tspan x="594.18" y="114.00" font-size="50">(</tspan><tspan x="611.07" y="113.90" font-size="47.50" textLength="24.63" lengthAdjust="spacingAndGlyphs">x</tspan><tspan x="638.53" y="134.90" font-size="37.61" textLength="20.70" lengthAdjust="spacingAndGlyphs">2</tspan><tspan x="657.26" y="115.25" font-size="43.22" textLength="11.75" lengthAdjust="spacingAndGlyphs">,</tspan><tspan x="668.96" y="114.00" font-size="50">t</tspan><tspan x="682.12" y="114.00" font-size="50">)</tspan></text>
<text><tspan x="812.25" y="38.90" font-size="49.94" textLength="28.62" lengthAdjust="spacingAndGlyphs">T</tspan><tspan x="834.93" y="60.00" font-size="37.4">4</tspan><tspan x="857.23" y="39.00" font-size="50">(</tspan><tspan x="874.12" y="38.90" font-size="47.50" textLength="24.63" lengthAdjust="spacingAndGlyphs">x</tspan><tspan x="902.14" y="60.00" font-size="37.4">3</tspan><tspan x="920.36" y="40.25" font-size="43.22" textLength="11.75" lengthAdjust="spacingAndGlyphs">,</tspan><tspan x="931.96" y="39.00" font-size="50">t</tspan><tspan x="945.12" y="39.00" font-size="50">)</tspan></text>
<text><tspan x="803.37" y="114.35" font-size="48.14" textLength="24.67" lengthAdjust="spacingAndGlyphs">q</tspan><tspan x="829.97" y="118.89" font-size="58.33" textLength="16.66" lengthAdjust="spacingAndGlyphs">&quot;</tspan><tspan x="831.08" y="135.00" font-size="37.4">4</tspan><tspan x="857.23" y="114.00" font-size="50">(</tspan><tspan x="874.12" y="113.90" font-size="47.50" textLength="24.63" lengthAdjust="spacingAndGlyphs">x</tspan><tspan x="902.14" y="135.00" font-size="37.4">3</tspan><tspan x="920.36" y="115.25" font-size="43.22" textLength="11.75" lengthAdjust="spacingAndGlyphs">,</tspan><tspan x="931.96" y="114.00" font-size="50">t</tspan><tspan x="945.12" y="114.00" font-size="50">)</tspan></text>
<text><tspan x="1150.25" y="38.90" font-size="49.94" textLength="28.62" lengthAdjust="spacingAndGlyphs">T</tspan><tspan x="1173.44" y="60.00" font-size="37.4">5</tspan><tspan x="1195.23" y="39.00" font-size="50">(</tspan><tspan x="1211.27" y="38.90" font-size="47.50" textLength="24.63" lengthAdjust="spacingAndGlyphs">x</tspan><tspan x="1239.93" y="60.00" font-size="37.4">4</tspan><tspan x="1257.26" y="40.25" font-size="43.22" textLength="11.75" lengthAdjust="spacingAndGlyphs">,</tspan><tspan x="1269.81" y="39.00" font-size="50">t</tspan><tspan x="1282.27" y="39.00" font-size="50">)</tspan></text>
<text><tspan x="1141.07" y="114.35" font-size="48.14" textLength="24.67" lengthAdjust="spacingAndGlyphs">q</tspan><tspan x="1167.18" y="118.89" font-size="58.33" textLength="17.24" lengthAdjust="spacingAndGlyphs">&quot;</tspan><tspan x="1169.64" y="135.00" font-size="37.4">5</tspan><tspan x="1195.23" y="114.00" font-size="50">(</tspan><tspan x="1211.27" y="113.90" font-size="47.50" textLength="24.63" lengthAdjust="spacingAndGlyphs">x</tspan><tspan x="1239.93" y="135.00" font-size="37.4">4</tspan><tspan x="1257.26" y="115.25" font-size="43.22" textLength="11.75" lengthAdjust="spacingAndGlyphs">,</tspan><tspan x="1269.81" y="114.00" font-size="50">t</tspan><tspan x="1282.27" y="114.00" font-size="50">)</tspan></text>
<text><tspan x="1338.30" y="38.90" font-size="49.94" textLength="28.62" lengthAdjust="spacingAndGlyphs">T</tspan><tspan x="1362.27" y="59.90" font-size="35.44" textLength="18.19" lengthAdjust="spacingAndGlyphs">n</tspan><tspan x="1382.23" y="39.00" font-size="50">(</tspan><tspan x="1399.42" y="38.90" font-size="47.50" textLength="24.63" lengthAdjust="spacingAndGlyphs">x</tspan><tspan x="1428.12" y="59.90" font-size="35.44" textLength="18.19" lengthAdjust="spacingAndGlyphs">n</tspan><tspan x="1445.10" y="60.40" font-size="38.82" textLength="10.77" lengthAdjust="spacingAndGlyphs">-</tspan><tspan x="1459.85" y="59.90" font-size="37.72" textLength="14.49" lengthAdjust="spacingAndGlyphs">1</tspan><tspan x="1474.21" y="40.25" font-size="43.22" textLength="11.75" lengthAdjust="spacingAndGlyphs">,</tspan><tspan x="1486.96" y="39.00" font-size="50">t</tspan><tspan x="1499.12" y="39.00" font-size="50">)</tspan></text>
<text><tspan x="1328.07" y="114.35" font-size="48.14" textLength="24.67" lengthAdjust="spacingAndGlyphs">q</tspan><tspan x="1354.30" y="118.89" font-size="58.33" textLength="17.09" lengthAdjust="spacingAndGlyphs">&quot;</tspan><tspan x="1356.97" y="134.90" font-size="35.44" textLength="18.19" lengthAdjust="spacingAndGlyphs">n</tspan><tspan x="1382.23" y="114.00" font-size="50">(</tspan><tspan x="1399.42" y="113.90" font-size="47.50" textLength="24.63" lengthAdjust="spacingAndGlyphs">x</tspan><tspan x="1428.12" y="134.90" font-size="35.44" textLength="18.19" lengthAdjust="spacingAndGlyphs">n</tspan><tspan x="1445.10" y="135.40" font-size="38.82" textLength="10.77" lengthAdjust="spacingAndGlyphs">-</tspan><tspan x="1459.85" y="134.90" font-size="37.72" textLength="14.49" lengthAdjust="spacingAndGlyphs">1</tspan><tspan x="1474.21" y="115.25" font-size="43.22" textLength="11.75" lengthAdjust="spacingAndGlyphs">,</tspan><tspan x="1486.96" y="114.00" font-size="50">t</tspan><tspan x="1499.12" y="114.00" font-size="50">)</tspan></text>
<text><tspan x="1600.00" y="38.90" font-size="49.94" textLength="28.62" lengthAdjust="spacingAndGlyphs">T</tspan><tspan x="1624.27" y="59.90" font-size="35.44" textLength="18.19" lengthAdjust="spacingAndGlyphs">n</tspan><tspan x="1639.97" y="60.68" font-size="40.14" textLength="23.03" lengthAdjust="spacingAndGlyphs" stroke-width="0">+</tspan><tspan x="1667.70" y="59.90" font-size="37.72" textLength="14.49" lengthAdjust="spacingAndGlyphs">1</tspan><tspan x="1683.38" y="39.00" font-size="50">(</tspan><tspan x="1699.27" y="38.90" font-size="47.50" textLength="24.63" lengthAdjust="spacingAndGlyphs">x</tspan><tspan x="1728.27" y="59.90" font-size="35.44" textLength="18.19" lengthAdjust="spacingAndGlyphs">n</tspan><tspan x="1745.51" y="40.25" font-size="43.22" textLength="11.75" lengthAdjust="spacingAndGlyphs">,</tspan><tspan x="1757.96" y="39.00" font-size="50">t</tspan><tspan x="1769.97" y="39.00" font-size="50">)</tspan></text>
<text><tspan x="1599.07" y="114.35" font-size="48.14" textLength="24.67" lengthAdjust="spacingAndGlyphs">q</tspan><tspan x="1625.60" y="118.89" font-size="58.33" textLength="17.09" lengthAdjust="spacingAndGlyphs">&quot;</tspan><tspan x="1628.27" y="134.90" font-size="35.44" textLength="18.19" lengthAdjust="spacingAndGlyphs">n</tspan><tspan x="1643.97" y="135.68" font-size="40.14" textLength="23.03" lengthAdjust="spacingAndGlyphs" stroke-width="0">+</tspan><tspan x="1671.50" y="134.90" font-size="37.72" textLength="14.49" lengthAdjust="spacingAndGlyphs">1</tspan><tspan x="1683.38" y="114.00" font-size="50">(</tspan><tspan x="1699.27" y="113.90" font-size="47.50" textLength="24.63" lengthAdjust="spacingAndGlyphs">x</tspan><tspan x="1728.27" y="134.90" font-size="35.44" textLength="18.19" lengthAdjust="spacingAndGlyphs">n</tspan><tspan x="1745.51" y="115.25" font-size="43.22" textLength="11.75" lengthAdjust="spacingAndGlyphs">,</tspan><tspan x="1757.96" y="114.00" font-size="50">t</tspan><tspan x="1769.97" y="114.00" font-size="50">)</tspan></text>
<text><tspan x="18.87" y="999.90" font-size="47.50" textLength="24.63" lengthAdjust="spacingAndGlyphs">x</tspan><tspan x="50.10" y="995.75" font-size="38.40" textLength="31.75" lengthAdjust="spacingAndGlyphs">=</tspan><tspan x="94.00" y="1000.00" font-size="50">0</tspan></text>
<text><tspan x="322.77" y="999.90" font-size="47.50" textLength="24.63" lengthAdjust="spacingAndGlyphs">x</tspan><tspan x="355.10" y="995.75" font-size="38.40" textLength="31.75" lengthAdjust="spacingAndGlyphs">=</tspan><tspan x="398.77" y="999.90" font-size="47.50" textLength="24.63" lengthAdjust="spacingAndGlyphs">x</tspan><tspan x="429.35" y="1020.90" font-size="37.72" textLength="14.49" lengthAdjust="spacingAndGlyphs">1</tspan></text>
<text><tspan x="549.12" y="999.90" font-size="47.50" textLength="24.63" lengthAdjust="spacingAndGlyphs">x</tspan><tspan x="580.10" y="995.75" font-size="38.40" textLength="31.75" lengthAdjust="spacingAndGlyphs">=</tspan><tspan x="624.12" y="999.90" font-size="47.50" textLength="24.63" lengthAdjust="spacingAndGlyphs">x</tspan><tspan x="651.53" y="1020.90" font-size="37.61" textLength="20.70" lengthAdjust="spacingAndGlyphs">2</tspan></text>
<text><tspan x="811.07" y="999.90" font-size="47.50" textLength="24.63" lengthAdjust="spacingAndGlyphs">x</tspan><tspan x="843.43" y="995.75" font-size="38.40" textLength="31.39" lengthAdjust="spacingAndGlyphs">=</tspan><tspan x="886.12" y="999.90" font-size="47.50" textLength="24.63" lengthAdjust="spacingAndGlyphs">x</tspan><tspan x="913.99" y="1021.00" font-size="37.4">3</tspan></text>
<text><tspan x="1149.12" y="999.90" font-size="47.50" textLength="24.63" lengthAdjust="spacingAndGlyphs">x</tspan><tspan x="1180.10" y="995.75" font-size="38.40" textLength="31.75" lengthAdjust="spacingAndGlyphs">=</tspan><tspan x="1224.12" y="999.90" font-size="47.50" textLength="24.63" lengthAdjust="spacingAndGlyphs">x</tspan><tspan x="1252.08" y="1021.00" font-size="37.4">4</tspan></text>
<text><tspan x="1337.07" y="999.90" font-size="47.50" textLength="24.63" lengthAdjust="spacingAndGlyphs">x</tspan><tspan x="1368.10" y="995.75" font-size="38.40" textLength="31.75" lengthAdjust="spacingAndGlyphs">=</tspan><tspan x="1412.12" y="999.90" font-size="47.50" textLength="24.63" lengthAdjust="spacingAndGlyphs">x</tspan><tspan x="1440.77" y="1020.90" font-size="35.44" textLength="18.19" lengthAdjust="spacingAndGlyphs">n</tspan><tspan x="1457.10" y="1021.40" font-size="38.82" textLength="10.77" lengthAdjust="spacingAndGlyphs">-</tspan><tspan x="1471.85" y="1020.90" font-size="37.72" textLength="14.49" lengthAdjust="spacingAndGlyphs">1</tspan></text>
<text><tspan x="1599.12" y="999.90" font-size="47.50" textLength="24.63" lengthAdjust="spacingAndGlyphs">x</tspan><tspan x="1631.10" y="995.75" font-size="38.40" textLength="31.75" lengthAdjust="spacingAndGlyphs">=</tspan><tspan x="1674.12" y="999.90" font-size="47.50" textLength="24.63" lengthAdjust="spacingAndGlyphs">x</tspan><tspan x="1703.27" y="1020.90" font-size="35.44" textLength="18.19" lengthAdjust="spacingAndGlyphs">n</tspan></text>
<text><tspan x="1732.77" y="567.90" font-size="47.50" textLength="24.63" lengthAdjust="spacingAndGlyphs">x</tspan></text>
</g>
</svg>
</body>
</html>
